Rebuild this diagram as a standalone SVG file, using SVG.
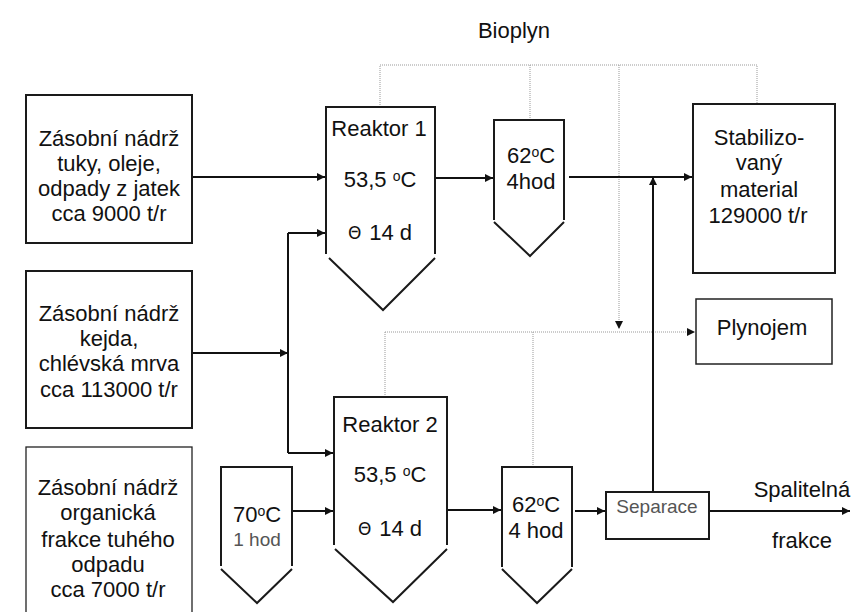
<svg xmlns="http://www.w3.org/2000/svg" width="854" height="612" viewBox="0 0 854 612">
<defs>
<marker id="ah" viewBox="0 0 10 10" refX="10" refY="5" markerUnits="userSpaceOnUse" markerWidth="9" markerHeight="8" orient="auto">
<path d="M0,0 L10,5 L0,10 z" fill="#111"/>
</marker>
<style>
.t{font-family:"Liberation Sans",Arial,sans-serif;font-size:22px;fill:#111;text-anchor:middle}
.lt{font-family:"Liberation Sans",Arial,sans-serif;font-size:19px;fill:#555;text-anchor:middle}
.sup{font-size:14px}
.th{font-size:17px;font-family:"DejaVu Sans",sans-serif}
.box{fill:none;stroke:#1a1a1a;stroke-width:2}
.thin{fill:none;stroke:#222;stroke-width:1.3}
.flow{fill:none;stroke:#111;stroke-width:2;marker-end:url(#ah)}
.line{fill:none;stroke:#111;stroke-width:2}
.gas{fill:none;stroke:#999;stroke-width:1;stroke-dasharray:1 1}
.gasa{fill:none;stroke:#999;stroke-width:1;stroke-dasharray:1 1;marker-end:url(#ah)}
</style>
</defs>
<rect x="0" y="0" width="854" height="612" fill="#fff"/>

<g id="connectors">
<path class="gas" d="M380,107 V65 H757 V104"/>
<path class="gas" d="M530,65 V120"/>
<path class="gasa" d="M619,65 V329"/>
<path class="gas" d="M385,397 V332"/>
<path class="gasa" d="M385,332 H695"/>
<path class="gas" d="M533,332 V467"/>
<path class="flow" d="M192,177 H325"/>
<path class="flow" d="M192,353 H288"/>
<path class="line" d="M288,233 V453"/>
<path class="flow" d="M288,233 H325"/>
<path class="flow" d="M288,453 H333"/>
<path class="flow" d="M292,511 H333"/>
<path class="flow" d="M435,178 H493"/>
<path class="flow" d="M569,177 H692"/>
<path class="flow" d="M653,492 V177"/>
<path class="flow" d="M447,510 H501"/>
<path class="flow" d="M575,511 H605"/>
<path class="flow" d="M709,511 H850"/>
</g>

<g id="box1">
<rect class="box" x="26" y="95" width="166" height="148"/>
<text class="t" x="109" y="146">Zásobní nádrž</text>
<text class="t" x="109" y="171">tuky, oleje,</text>
<text class="t" x="109" y="196">odpady z jatek</text>
<text class="t" x="109" y="221">cca 9000 t/r</text>
</g>

<g id="box2">
<rect class="box" x="26" y="271" width="166" height="157"/>
<text class="t" x="109" y="321">Zásobní nádrž</text>
<text class="t" x="109" y="346">kejda,</text>
<text class="t" x="109" y="371">chlévská mrva</text>
<text class="t" x="109" y="397">cca 113000 t/r</text>
</g>

<g id="box3">
<rect class="thin" x="26" y="447" width="166" height="180"/>
<text class="t" x="108" y="495">Zásobní nádrž</text>
<text class="t" x="108" y="520">organická</text>
<text class="t" x="108" y="547">frakce tuhého</text>
<text class="t" x="108" y="572">odpadu</text>
<text class="t" x="108" y="597">cca 7000 t/r</text>
</g>

<g id="reaktor1">
<path class="box" d="M326,254 V107 H435 V254"/>
<path class="box" d="M329,258 L383,310 L435,258"/>
<text class="t" x="379" y="136">Reaktor 1</text>
<text class="t" x="380" y="187">53,5 <tspan class="sup" dy="-6">o</tspan><tspan dy="6">C</tspan></text>
<text class="t" x="380" y="240"><tspan class="th" dy="-1">Θ</tspan><tspan dx="8" dy="1">14 d</tspan></text>
</g>

<g id="ohrev1">
<path class="box" d="M494,220 V120 H564 V220"/>
<path class="box" d="M494,222 L530,256 L564,222"/>
<text class="t" x="531" y="163">62<tspan class="sup" dy="-6">o</tspan><tspan dy="6">C</tspan></text>
<text class="t" x="531" y="189">4hod</text>
</g>

<g id="stabilizovany">
<rect class="box" x="693" y="104" width="142" height="169"/>
<text class="t" x="759" y="145">Stabilizo-</text>
<text class="t" x="759" y="170">vaný</text>
<text class="t" x="759" y="197">material</text>
<text class="t" x="758" y="223">129000 t/r</text>
</g>

<g id="plynojem">
<rect class="thin" x="696" y="299" width="136" height="65" style="stroke-width:1.5"/>
<text class="t" x="762" y="335">Plynojem</text>
</g>

<g id="hygienizace">
<path class="box" d="M221,566 V467 H292 V566"/>
<path class="box" d="M221,569 L257,603 L292,569"/>
<text class="t" x="257" y="522">70<tspan class="sup" dy="-6">o</tspan><tspan dy="6">C</tspan></text>
<text class="lt" x="257" y="546">1 hod</text>
</g>

<g id="reaktor2">
<path class="box" d="M334,545 V397 H447 V545"/>
<path class="box" d="M335,549 L393,602 L447,549"/>
<text class="t" x="390" y="432">Reaktor 2</text>
<text class="t" x="390" y="482">53,5 <tspan class="sup" dy="-6">o</tspan><tspan dy="6">C</tspan></text>
<text class="t" x="390" y="536"><tspan class="th" dy="-1">Θ</tspan><tspan dx="8" dy="1">14 d</tspan></text>
</g>

<g id="ohrev2">
<path class="box" d="M502,567 V467 H572 V567"/>
<path class="box" d="M502,569 L537,603 L572,569"/>
<text class="t" x="536" y="512">62<tspan class="sup" dy="-6">o</tspan><tspan dy="6">C</tspan></text>
<text class="t" x="536" y="538">4 hod</text>
</g>

<g id="separace">
<rect class="box" x="606" y="492" width="103" height="47"/>
<text class="lt" x="657" y="513">Separace</text>
</g>

<g id="labels">
<text class="t" x="514" y="38">Bioplyn</text>
<text class="t" x="802" y="497">Spalitelná</text>
<text class="t" x="802" y="548">frakce</text>
</g>
</svg>
